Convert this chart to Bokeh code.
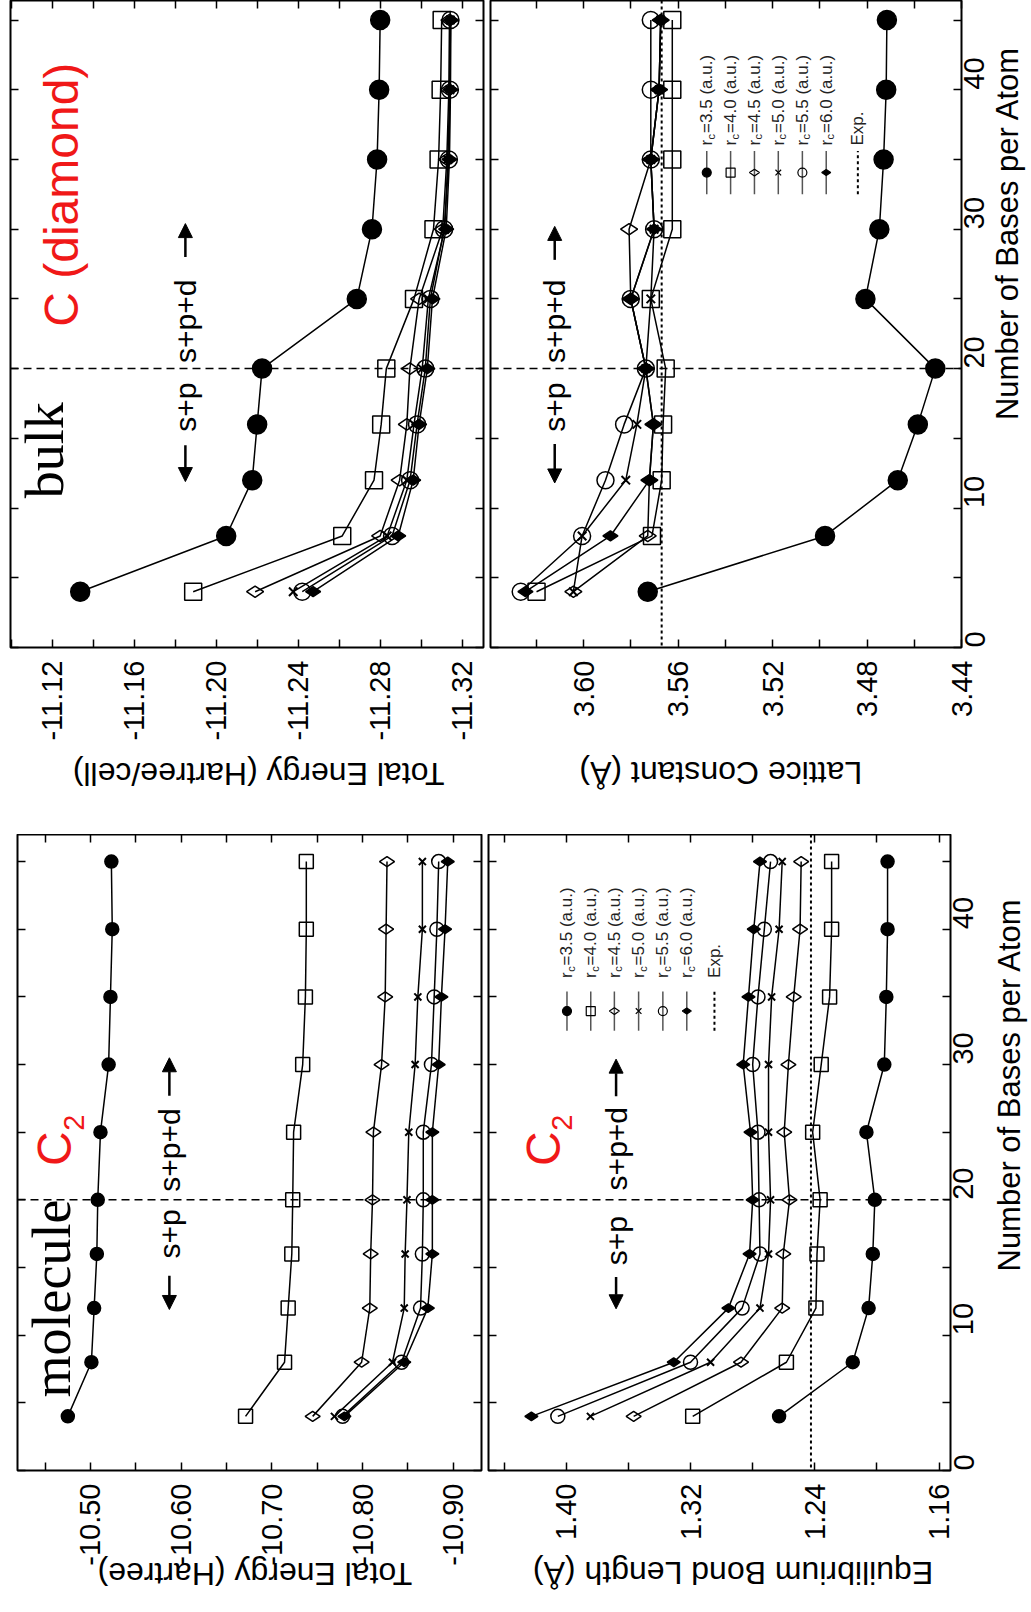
import math
from bokeh.plotting import figure
from bokeh.models import (Range1d, LinearAxis, FixedTicker, Label, Span, Arrow,
                          NormalHead, PrintfTickFormatter)
from bokeh.layouts import column, row
from bokeh.embed import file_html
from bokeh.resources import INLINE

# ---------------- data ----------------
bases = [4, 8, 12, 16, 20, 25, 30, 35, 40, 45]
rc_values = ["3.5", "4.0", "4.5", "5.0", "5.5", "6.0"]

# molecule C2: total energy (Hartree)
mol_E_35 = [-10.475, -10.501, -10.504, -10.507, -10.508, -10.511, -10.520, -10.522, -10.524, -10.523]
mol_E_40 = [-10.671, -10.714, -10.718, -10.722, -10.723, -10.724, -10.734, -10.737, -10.738, -10.738]
mol_E_45 = [-10.745, -10.799, -10.808, -10.809, -10.811, -10.812, -10.821, -10.825, -10.826, -10.827]
mol_E_50 = [-10.769, -10.833, -10.846, -10.847, -10.849, -10.851, -10.858, -10.861, -10.866, -10.866]
mol_E_55 = [-10.778, -10.843, -10.864, -10.866, -10.867, -10.867, -10.876, -10.879, -10.882, -10.884]
mol_E_60 = [-10.780, -10.846, -10.872, -10.877, -10.877, -10.877, -10.884, -10.887, -10.891, -10.894]

# molecule C2: equilibrium bond length (Angstrom)
mol_R_35 = [1.2630, 1.2156, 1.2054, 1.2027, 1.2014, 1.2068, 1.1953, 1.1940, 1.1932, 1.1932]
mol_R_40 = [1.3186, 1.2583, 1.2393, 1.2386, 1.2366, 1.2414, 1.2359, 1.2305, 1.2292, 1.2292]
mol_R_45 = [1.3566, 1.2875, 1.2610, 1.2603, 1.2563, 1.2597, 1.2570, 1.2536, 1.2495, 1.2488]
mol_R_50 = [1.3844, 1.3071, 1.2753, 1.2698, 1.2685, 1.2698, 1.2698, 1.2678, 1.2630, 1.2610]
mol_R_55 = [1.4054, 1.3200, 1.2868, 1.2753, 1.2759, 1.2766, 1.2800, 1.2766, 1.2725, 1.2685]
mol_R_60 = [1.4224, 1.3308, 1.2956, 1.2820, 1.2800, 1.2814, 1.2861, 1.2827, 1.2793, 1.2753]
mol_R_exp = 1.2425

# bulk diamond: total energy (Hartree/cell)
blk_E_35 = [-11.1337, -11.2049, -11.2176, -11.2200, -11.2224, -11.2686, -11.2760, -11.2785, -11.2795, -11.2800]
blk_E_40 = [-11.1888, -11.2615, -11.2770, -11.2805, -11.2830, -11.2965, -11.3060, -11.3085, -11.3095, -11.3100]
blk_E_45 = [-11.2190, -11.2800, -11.2895, -11.2930, -11.2945, -11.2990, -11.3105, -11.3125, -11.3135, -11.3138]
blk_E_50 = [-11.2376, -11.2834, -11.2930, -11.2965, -11.3005, -11.3035, -11.3115, -11.3130, -11.3140, -11.3142]
blk_E_55 = [-11.2420, -11.2858, -11.2946, -11.2980, -11.3020, -11.3045, -11.3112, -11.3135, -11.3140, -11.3143]
blk_E_60 = [-11.2473, -11.2888, -11.2961, -11.2990, -11.3030, -11.3055, -11.3122, -11.3138, -11.3143, -11.3145]

# bulk diamond: lattice constant (Angstrom)
blk_A_35 = [3.5729, 3.4978, 3.4670, 3.4585, 3.4511, 3.4807, 3.4748, 3.4730, 3.4719, 3.4716]
blk_A_40 = [3.6200, 3.5711, 3.5670, 3.5664, 3.5653, 3.5716, 3.5625, 3.5625, 3.5625, 3.5625]
blk_A_45 = [3.6044, 3.5729, 3.5722, 3.5705, 3.5737, 3.5801, 3.5808, 3.5716, 3.5681, 3.5674]
blk_A_50 = [3.6044, 3.6007, 3.5822, 3.5775, 3.5737, 3.5716, 3.5702, 3.5716, 3.5681, 3.5674]
blk_A_55 = [3.6267, 3.6007, 3.5908, 3.5829, 3.5737, 3.5801, 3.5702, 3.5716, 3.5716, 3.5716]
blk_A_60 = [3.6247, 3.5887, 3.5722, 3.5705, 3.5737, 3.5801, 3.5702, 3.5716, 3.5681, 3.5674]
blk_A_exp = 3.567

basis_switch = 20

base_ticks = [0, 10, 20, 30, 40]
base_minor = [5, 15, 25, 35, 45]

molE_ticks = [-10.50, -10.60, -10.70, -10.80, -10.90]
molE_minor = [-10.45, -10.55, -10.65, -10.75, -10.85]
molR_ticks = [1.40, 1.32, 1.24, 1.16]
molR_minor = [1.44, 1.36, 1.28, 1.20]
blkE_ticks = [-11.12, -11.16, -11.20, -11.24, -11.28, -11.32]
blkE_minor = [-11.10, -11.14, -11.18, -11.22, -11.26, -11.30]
blkA_ticks = [3.60, 3.56, 3.52, 3.48, 3.44]
blkA_minor = [3.62, 3.58, 3.54, 3.50, 3.46]

# ---------------- styles ----------------
FONT = "Liberation Sans"
SERIF = "Liberation Serif"
RED = "#f01818"
NBSP = "\u00a0"
MARKERS = [("circle", "black", 0.0), ("square", None, 0.0), ("diamond", None, math.pi / 2),
           ("x", None, 0.0), ("circle", None, 0.0), ("diamond", "black", math.pi / 2)]
SIZES_MOL = [13, 14, 15, 10, 14, 13]
SIZES_BLK = [19, 17, 17, 12, 17, 15]
SIZES_LEG = [9, 9, 10, 8, 9, 9]

W_LEFT, W_RIGHT = 486, 545
H_TOP, H_BOTTOM = 834, 778


def style_axis(ax, ticks, minor, labels, fmt=None):
    ax.ticker = FixedTicker(ticks=ticks, minor_ticks=minor)
    ax.axis_line_color = None
    ax.major_tick_in = 8
    ax.major_tick_out = 0
    ax.minor_tick_in = 8
    ax.minor_tick_out = 0
    ax.major_tick_line_width = 1.5
    ax.minor_tick_line_width = 1.5
    ax.major_tick_line_color = "black"
    ax.minor_tick_line_color = "black"
    if labels:
        ax.major_label_text_font = FONT
        ax.major_label_text_font_size = "29px"
        ax.major_label_text_color = "black"
        ax.major_label_orientation = math.pi / 2
        ax.major_label_standoff = 13
        if fmt:
            ax.formatter = PrintfTickFormatter(format=fmt)
    else:
        ax.major_label_text_font_size = "1px"
        ax.major_label_text_color = None
        ax.major_label_standoff = 0


class Panel:
    def __init__(self, w, h, xr, yr, bl, br, bt, bb, xt, xm, fmt, right_labels):
        p = figure(width=w, height=h, x_range=Range1d(xr[0], xr[1]), y_range=Range1d(yr[0], yr[1]),
                   output_backend="svg", toolbar_location=None,
                   min_border_left=bl, min_border_right=br, min_border_top=bt, min_border_bottom=bb,
                   background_fill_color="white", border_fill_color="white")
        p.outline_line_color = "black"
        p.outline_line_width = 2
        p.xgrid.visible = False
        p.ygrid.visible = False
        self.bottom_axis = p.below[0]
        style_axis(self.bottom_axis, xt, xm, True, fmt)
        style_axis(p.left[0], base_ticks, base_minor, False)
        top = LinearAxis()
        style_axis(top, xt, xm, False)
        p.add_layout(top, "above")
        rt = LinearAxis()
        style_axis(rt, base_ticks, base_minor, right_labels)
        p.add_layout(rt, "right")
        self.p = p
        self.w, self.h = w, h
        self.bl, self.br, self.bt, self.bb = bl, br, bt, bb
        self.fw, self.fh = w - bl - br, h - bt - bb
        self.xr, self.yr = xr, yr
        self.xpp = (xr[1] - xr[0]) / self.fw
        self.ypp = (yr[1] - yr[0]) / self.fh

    def text(self, x, y, s, size, angle=math.pi / 2, align="left", baseline="middle",
             font=FONT, color="black", dx=0.0):
        self.p.add_layout(Label(x=x + dx * self.xpp, y=y, text=s, angle=angle, text_align=align,
                                text_baseline=baseline, text_font=font, text_font_size=size,
                                text_color=color))

    def big(self, x, y, s, fsize, font=FONT, color="black"):
        # baseline-anchored rotated text; shift for the renderer's line box
        self.text(x, y, s, "%dpx" % fsize, baseline="alphabetic", font=font, color=color,
                  dx=-0.37 * fsize)

    def arrow(self, x, y0, y1):
        self.p.add_layout(Arrow(end=NormalHead(size=14, fill_color="black", line_color="black",
                                               line_width=1),
                                x_start=x, y_start=y0, x_end=x, y_end=y1,
                                line_width=2.5, line_color="black"))

    def series(self, data, sizes):
        for vals in data:
            self.p.line(x=vals, y=bases, line_color="black", line_width=1.5)
        for i, vals in enumerate(data):
            mk, fill, ang = MARKERS[i]
            self.p.scatter(x=vals, y=bases, marker=mk, size=sizes[i], angle=ang,
                           fill_color=fill, line_color="black",
                           line_width=2 if mk == "x" else 1.5)

    def switch(self):
        self.p.add_layout(Span(location=basis_switch, dimension="width", line_color="black",
                               line_dash="8 5", line_width=1.5))

    def basis_text(self, x, y_d, y_p, up, down):
        self.text(x, y_d, "s+p+d", "30px", align="left")
        self.text(x, y_p, "s+p", "30px", align="right")
        self.arrow(x, up[0], up[1])
        self.arrow(x, down[0], down[1])

    def axis_label(self, s, standoff, pad):
        # upside-down label (the chart is turned a quarter turn); trailing spaces shift it right
        ax = self.bottom_axis
        ax.axis_label = s + NBSP * pad
        ax.axis_label_text_font = FONT
        ax.axis_label_text_font_size = "32px"
        ax.axis_label_text_font_style = "normal"
        ax.axis_label_text_color = "black"
        ax.axis_label_standoff = standoff
        ax.axis_label_align = "end"
        ax.axis_label_orientation = math.pi

    def legend(self, xs, x_exp, yl0, yl1, ym, yt, fsize=17):
        wr = 0.36 * fsize
        for i, x in enumerate(xs):
            mk, fill, ang = MARKERS[i]
            self.p.segment(x0=[x], y0=[yl0], x1=[x], y1=[yl1], line_color="#555", line_width=1.5)
            self.p.scatter(x=[x], y=[ym], marker=mk, size=SIZES_LEG[i], angle=ang,
                           fill_color=fill, line_color="black", line_width=1.2)
            self.text(x, yt, "r", "%dpx" % fsize, color="#222")
            self.text(x + 4 * self.xpp, yt + wr * self.ypp, "c", "%dpx" % int(fsize * 0.65),
                      color="#222")
            self.text(x, yt + (wr + 6.5) * self.ypp, "=%s (a.u.)" % rc_values[i],
                      "%dpx" % fsize, color="#222")
        self.p.segment(x0=[x_exp], y0=[yl0], x1=[x_exp], y1=[yl1], line_color="black",
                       line_width=2, line_dash="3 3")
        self.text(x_exp, yt, "Exp.", "%dpx" % fsize, color="#222")

    def exp_line(self, x):
        self.p.add_layout(Span(location=x, dimension="height", line_color="black",
                               line_dash="3 3", line_width=2))

    def bases_overlay(self, px_right, y):
        # transparent strip laid over this panel's right border, carrying the
        # bottom-to-top "Number of Bases per Atom" label
        w = self.br
        e = figure(width=w, height=self.h, x_range=Range1d(0, w), y_range=Range1d(0, self.h),
                   output_backend="svg", toolbar_location=None, x_axis_location=None,
                   y_axis_location=None, min_border=0, background_fill_color=None,
                   border_fill_color=None, outline_line_color=None)
        e.xgrid.visible = False
        e.ygrid.visible = False
        e.styles = {"margin-left": "-%dpx" % w}
        e.add_layout(Label(x=px_right, y=self.bb + (y - self.yr[0]) / self.ypp,
                           text="Number of Bases per Atom", angle=math.pi / 2,
                           text_align="center", text_baseline="middle", text_font=FONT,
                           text_font_size="31px", text_color="black"))
        return e


# ---------------- bulk: total energy ----------------
A = Panel(W_LEFT, H_TOP, (-11.0997, -11.3304), (0, 46.4), 10, 3, 0, 187,
          blkE_ticks, blkE_minor, "%.2f", False)
A.switch()
A.series([blk_E_35, blk_E_40, blk_E_45, blk_E_50, blk_E_55, blk_E_60], SIZES_BLK)
A.big(-11.1265, 10.7, "bulk", 54, font=SERIF)
A.big(-11.1330, 23.0, "C (diamond)", 48, color=RED)
A.basis_text(-11.1850, 20.4, 19.0, (28.0, 30.4), (14.5, 11.9))
A.axis_label("Total Energy (Hartree/cell)", 30, 7)

# ---------------- bulk: lattice constant ----------------
B = Panel(W_RIGHT, H_TOP, (3.6395, 3.44), (0, 46.4), 4, 70, 0, 187,
          blkA_ticks, blkA_minor, "%.2f", True)
B.switch()
B.exp_line(blk_A_exp)
B.series([blk_A_35, blk_A_40, blk_A_45, blk_A_50, blk_A_55, blk_A_60], SIZES_BLK)
B.basis_text(3.6123, 20.4, 19.0, (27.8, 30.2), (14.6, 11.8))
B.legend([3.5479, 3.5378, 3.5277, 3.5176, 3.5074, 3.4973], 3.4839, 32.5, 35.6, 34.06, 36.0)
B.axis_label("Lattice Constant (Å)", 53, 10)
E1 = B.bases_overlay(46, 24.9)

# ---------------- molecule: total energy ----------------
C = Panel(W_LEFT, H_BOTTOM, (-10.4195, -10.9312), (0, 47.0), 17, 5, 0, 139,
          molE_ticks, molE_minor, "%.2f", False)
C.switch()
C.series([mol_E_35, mol_E_40, mol_E_45, mol_E_50, mol_E_55, mol_E_60], SIZES_MOL)
C.big(-10.4798, 5.4, "molecule", 54, font=SERIF)
C.big(-10.4798, 22.5, "C", 48, color=RED)
C.big(-10.4934, 25.1, "2", 29, color=RED)
C.basis_text(-10.5870, 20.6, 19.3, (27.7, 30.5), (14.4, 11.9))
C.axis_label("Total Energy (Hartree)", 5, 9)

# ---------------- molecule: bond length ----------------
D = Panel(W_RIGHT, H_BOTTOM, (1.45, 1.1527), (0, 47.0), 2, 81, 0, 139,
          molR_ticks, molR_minor, "%.2f", True)
D.switch()
D.exp_line(mol_R_exp)
D.series([mol_R_35, mol_R_40, mol_R_45, mol_R_50, mol_R_55, mol_R_60], SIZES_MOL)
D.big(1.4035, 22.5, "C", 48, color=RED)
D.big(1.3958, 25.1, "2", 29, color=RED)
D.basis_text(1.3679, 20.7, 18.8, (27.65, 30.4), (14.3, 11.95))
D.legend([1.3995, 1.3842, 1.3690, 1.3534, 1.3378, 1.3224], 1.3046, 32.5, 35.4, 33.95, 36.4)
D.axis_label("Equilibrium Bond Length (Å)", 30, 5)
E2 = D.bases_overlay(59, 24.5)

layout = column(row(A.p, B.p, E1), row(C.p, D.p, E2))
open("out.html", "w").write(file_html(layout, INLINE))
